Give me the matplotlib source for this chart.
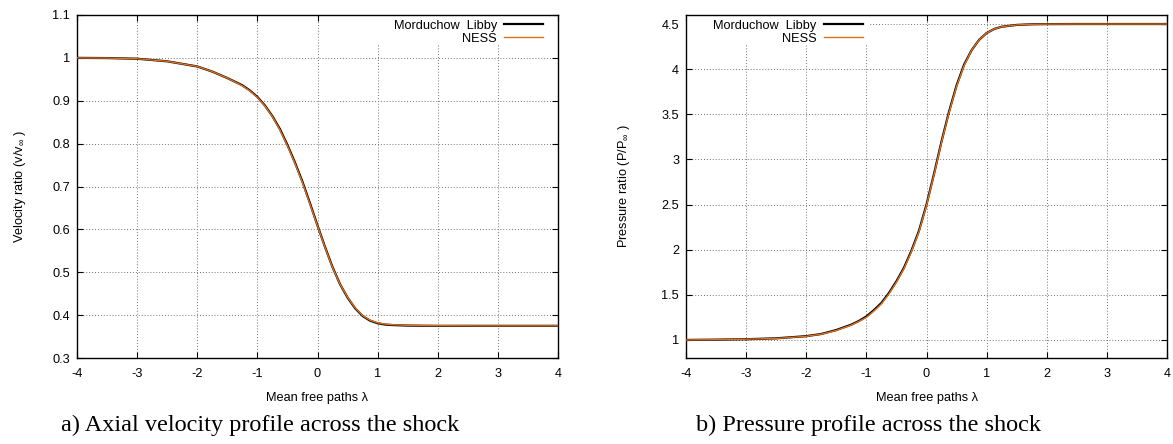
"""
Shock structure comparison: Morduchow-Libby vs NESS
a) axial velocity profile, b) pressure profile
"""
import matplotlib
matplotlib.use("Agg")
import matplotlib.pyplot as plt
import matplotlib.patches as mpatches

FS = 9.2
plt.rcParams["font.family"] = ["Liberation Sans", "DejaVu Sans"]
plt.rcParams["font.size"] = FS
plt.rcParams["mathtext.fontset"] = "custom"
plt.rcParams["mathtext.rm"] = "Liberation Sans"
plt.rcParams["mathtext.default"] = "regular"

# ── data ──────────────────────────────────────────────────────────
lam = [-4, -3.5, -3, -2.5, -2, -1.75, -1.5, -1.25, -1.125, -1, -0.875,
       -0.75, -0.625, -0.5, -0.375, -0.25, -0.125, 0, 0.125, 0.25, 0.375,
       0.5, 0.625, 0.75, 0.875, 1, 1.125, 1.25, 1.5, 1.75, 2, 2.5, 3, 3.5, 4]

vel_ml = [1.000, 0.9995, 0.998, 0.992, 0.980, 0.968, 0.953, 0.936, 0.924,
          0.909, 0.889, 0.864, 0.834, 0.797, 0.756, 0.711, 0.661, 0.609,
          0.559, 0.512, 0.472, 0.441, 0.416, 0.398, 0.387, 0.381, 0.378,
          0.3768, 0.3756, 0.3752, 0.375, 0.375, 0.375, 0.375, 0.375]
vel_ness = [1.000, 0.9995, 0.998, 0.992, 0.980, 0.968, 0.953, 0.935, 0.923,
            0.908, 0.888, 0.863, 0.832, 0.795, 0.754, 0.709, 0.659, 0.608,
            0.558, 0.511, 0.472, 0.442, 0.417, 0.399, 0.388, 0.382, 0.379,
            0.3775, 0.3762, 0.3756, 0.3753, 0.3751, 0.375, 0.375, 0.375]

pre_ml = [1.000, 1.003, 1.008, 1.018, 1.042, 1.066, 1.11, 1.17, 1.21, 1.26,
          1.33, 1.41, 1.52, 1.65, 1.80, 1.99, 2.21, 2.50, 2.84, 3.20, 3.53,
          3.82, 4.05, 4.21, 4.325, 4.40, 4.445, 4.47, 4.49, 4.497, 4.499,
          4.5, 4.5, 4.5, 4.5]
pre_ness = [1.000, 1.003, 1.008, 1.017, 1.040, 1.064, 1.105, 1.165, 1.205,
            1.25, 1.32, 1.40, 1.51, 1.64, 1.79, 1.98, 2.20, 2.49, 2.83, 3.19,
            3.52, 3.81, 4.04, 4.21, 4.325, 4.40, 4.445, 4.47, 4.49, 4.497,
            4.499, 4.5, 4.5, 4.5, 4.5]

x_ticks = [-4, -3, -2, -1, 0, 1, 2, 3, 4]
v_ticks = [0.3, 0.4, 0.5, 0.6, 0.7, 0.8, 0.9, 1.0, 1.1]
v_tlabels = ["0.3", "0.4", "0.5", "0.6", "0.7", "0.8", "0.9", "1", "1.1"]
p_ticks = [1, 1.5, 2, 2.5, 3, 3.5, 4, 4.5]
p_tlabels = ["1", "1.5", "2", "2.5", "3", "3.5", "4", "4.5"]

C_ML = "black"
C_NESS = "#e0701e"

fig = plt.figure(figsize=(11.73, 4.44), dpi=100)
ax1 = fig.add_axes([77/1173, 86/444, 481/1173, 343/444])
ax2 = fig.add_axes([686/1173, 86/444, 481/1173, 343/444])


def style(ax, yt, ytl, ylim, ylabel, ylab_x, leg_x, key_x0):
    ax.plot(lam, yt[0], color=C_ML, lw=1.6, label="Morduchow  Libby", zorder=3)
    ax.plot(lam, yt[1], color=C_NESS, lw=1.0, label="NESS", zorder=4)
    ax.set_xlim(-4, 4)
    ax.set_ylim(*ylim)
    ax.set_xticks(x_ticks)
    ax.set_xticklabels([str(t) for t in x_ticks])
    ax.set_yticks(yt[2])
    ax.set_yticklabels(ytl)
    ax.tick_params(direction="in", length=4, width=0.8, top=True, right=True,
                   labelsize=FS)
    ax.tick_params(axis="x", pad=7)
    ax.tick_params(axis="y", pad=5)
    for s in ax.spines.values():
        s.set_linewidth(1.0)
    ax.grid(True, color="0.45", lw=0.7, linestyle=(0, (1, 2)))
    ax.set_axisbelow(True)
    ax.set_xlabel("Mean free paths λ", fontsize=FS)
    ax.xaxis.set_label_coords(0.5, -0.1)
    ax.set_ylabel(ylabel, fontsize=FS)
    ax.yaxis.set_label_coords(ylab_x, 0.5)
    # key area is kept clear of the grid, as gnuplot does
    ax.add_patch(mpatches.Rectangle((key_x0, 0.9125), leg_x + 0.008 - key_x0,
                                    0.0855, transform=ax.transAxes,
                                    facecolor="white", edgecolor="none",
                                    zorder=2))
    ax.legend(loc="upper right", bbox_to_anchor=(leg_x, 0.995),
              markerfirst=False, frameon=False,
              borderaxespad=0, borderpad=0.25, labelspacing=0.05,
              handlelength=3.0, handletextpad=0.6, fontsize=FS)


style(ax1, (vel_ml, vel_ness, v_ticks), v_tlabels, (0.3, 1.1),
      r"Velocity ratio (v/v$_{\infty}$ )", -0.102, 0.975, 0.605)
style(ax2, (pre_ml, pre_ness, p_ticks), p_tlabels, (0.8, 4.6),
      r"Pressure ratio (P/P$_{\infty}$ )", -0.113, 0.374, 0.002)

fig.text(260/1173, 1 - 425/444, "a) Axial velocity profile across the shock",
         family=["Liberation Serif", "DejaVu Serif"], fontsize=17.5,
         ha="center", va="center")
fig.text(868/1173, 1 - 425/444, "b) Pressure profile across the shock",
         family=["Liberation Serif", "DejaVu Serif"], fontsize=17.5,
         ha="center", va="center")

fig.savefig("out.png", dpi=100)
